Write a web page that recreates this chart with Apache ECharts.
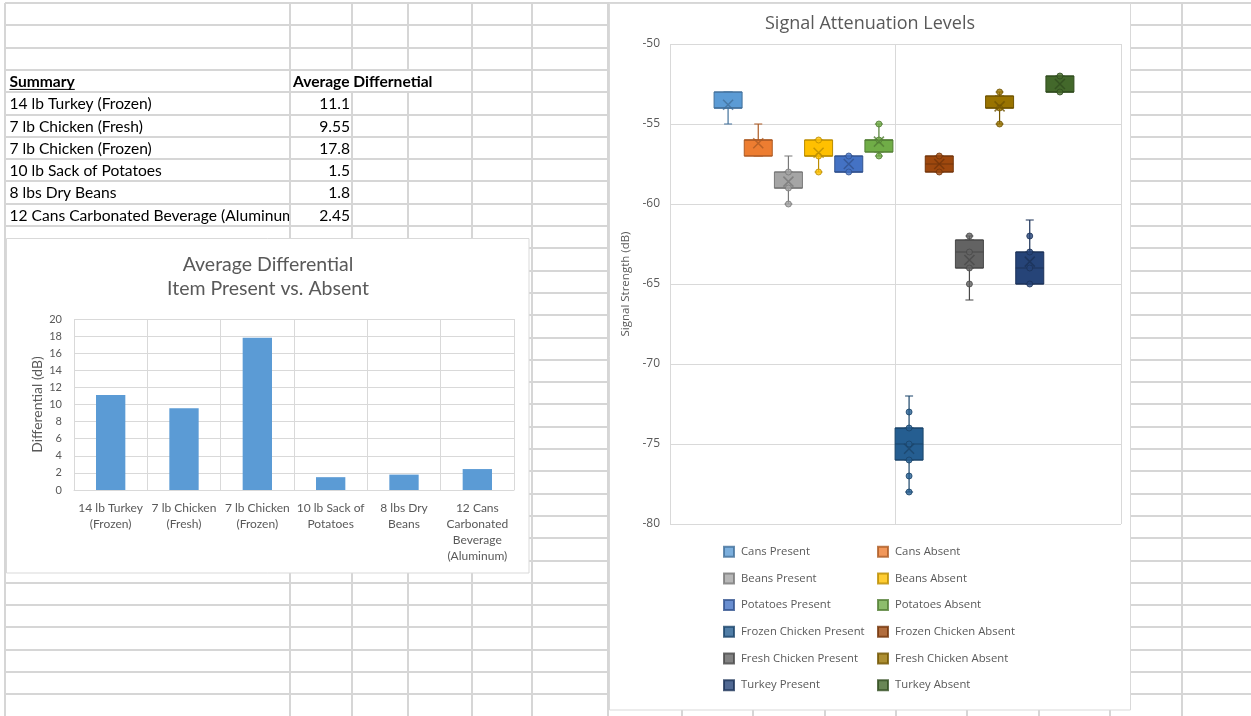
<!DOCTYPE html>
<html>
<head>
<meta charset="utf-8">
<title>Signal Attenuation</title>
<script src="https://cdn.jsdelivr.net/npm/echarts@6/dist/echarts.min.js"></script>
<style>
  html, body { margin: 0; padding: 0; background: #ffffff; }
  #main { width: 1251px; height: 716px; }
</style>
</head>
<body>
<div id="main"></div>
<script>
// ---- Summary table / differential bar chart ----
const summaryItems = ['14 lb Turkey (Frozen)', '7 lb Chicken (Fresh)', '7 lb Chicken (Frozen)',
  '10 lb Sack of Potatoes', '8 lbs Dry Beans', '12 Cans Carbonated Beverage (Aluminum)'];
const summaryValues = [11.1, 9.55, 17.8, 1.5, 1.8, 2.45];
const barTickLabels = ['14 lb Turkey\n(Frozen)', '7 lb Chicken\n(Fresh)', '7 lb Chicken\n(Frozen)',
  '10 lb Sack of\nPotatoes', '8 lbs Dry\nBeans', '12 Cans\nCarbonated\nBeverage\n(Aluminum)'];

// ---- Signal strength box plots (dB) ----
const groups = ['Cans Present', 'Cans Absent', 'Beans Present', 'Beans Absent',
  'Potatoes Present', 'Potatoes Absent', 'Frozen Chicken Present', 'Frozen Chicken Absent',
  'Fresh Chicken Present', 'Fresh Chicken Absent', 'Turkey Present', 'Turkey Absent'];
const mins    = [-55, -57, -60, -58, -58, -57,    -78, -58,   -66, -55,    -65, -53];
const q1s     = [-54, -57, -59, -57, -58, -56.75, -76, -58,   -64, -54,    -65, -53];
const medians = [-54, -56, -59, -57, -58, -56,    -75, -57.5, -63, -54,    -64, -53];
const q3s     = [-53, -56, -58, -56, -57, -56,    -74, -57,   -62.25, -53.25, -63, -52];
const maxs    = [-53, -55, -57, -56, -57, -55,    -72, -57,   -62, -53,    -61, -52];
const means   = [-53.8, -56.2, -58.6, -56.8, -57.5, -56.1, -75.3, -57.5, -63.5, -53.9, -63.6, -52.5];
const innerPoints = [
  [], [], [-58, -59, -60], [-56, -57, -58], [-57, -58], [-55, -56, -57],
  [-73, -74, -75, -76, -77, -78], [-57, -58], [-62, -63, -64, -65], [-53, -54, -55],
  [-62, -63, -64, -65], [-52, -53]
];

// Office series colours
const palette = ['#5B9BD5', '#ED7D31', '#A5A5A5', '#FFC000', '#4472C4', '#70AD47',
  '#255E91', '#9E480E', '#636363', '#997300', '#264478', '#43682B'];

function shade(hex, f) {
  const n = parseInt(hex.slice(1), 16);
  const r = Math.round(((n >> 16) & 255) * f);
  const g = Math.round(((n >> 8) & 255) * f);
  const b = Math.round((n & 255) * f);
  return 'rgb(' + r + ',' + g + ',' + b + ')';
}
const outline = palette.map(c => shade(c, 0.73));

const GRAY_TEXT = '#595959';
const GRID_GRAY = '#D9D9D9';
const SHEET_LINE = '#D6D6D6';
const CALIBRI = 'Lato';
const SEGOE = 'Open Sans';

// ---- worksheet backdrop: cell grid, chart panels and summary cells ----
const sheetColumnEdges = [5, 290, 352, 408, 472, 532, 608, 682, 753, 825, 896, 967, 1039, 1110, 1182];
const rowTop = k => 3 + 22.3 * k;

const sheet = [];
for (let k = 0; rowTop(k) <= 716; k++) {
  const y = Math.round(rowTop(k));
  sheet.push({ type: 'line', z: -10, silent: true,
    shape: { x1: 5, y1: y, x2: 1251, y2: y }, style: { stroke: SHEET_LINE, lineWidth: 2 } });
}
sheetColumnEdges.forEach(x => sheet.push({ type: 'line', z: -10, silent: true,
  shape: { x1: x, y1: 3, x2: x, y2: 716 }, style: { stroke: SHEET_LINE, lineWidth: 2 } }));

// chart panels
sheet.push({ type: 'rect', z: -5, silent: true,
  shape: { x: 6.5, y: 238.5, width: 522.5, height: 334.5 },
  style: { fill: '#ffffff', stroke: GRID_GRAY, lineWidth: 1 } });
sheet.push({ type: 'rect', z: -5, silent: true,
  shape: { x: 609.5, y: 3.5, width: 521, height: 706.5 },
  style: { fill: '#ffffff', stroke: GRID_GRAY, lineWidth: 1 } });

// summary cells
const cellFont = (w) => w + ' 15.6px ' + CALIBRI;
const measure = document.createElement('canvas').getContext('2d');
measure.font = cellFont('bold');
const summaryWidth = measure.measureText('Summary').width;
const headerRow = 3;

// header text runs across the empty neighbouring cells, hiding their borders
sheet.push({ type: 'rect', z: -9, silent: true,
  shape: { x: 291.5, y: Math.round(rowTop(headerRow)) + 1, width: 179, height: 20 },
  style: { fill: '#ffffff' } });
sheet.push({ type: 'text', z: 1, silent: true, x: 9.5, y: rowTop(headerRow) + 12,
  style: { text: 'Summary', font: cellFont('bold'), fill: '#000', align: 'left', verticalAlign: 'middle' } });
sheet.push({ type: 'line', z: 1, silent: true,
  shape: { x1: 9.5, y1: rowTop(headerRow) + 19.5, x2: 9.5 + summaryWidth, y2: rowTop(headerRow) + 19.5 },
  style: { stroke: '#000', lineWidth: 1 } });
sheet.push({ type: 'text', z: 1, silent: true, x: 293, y: rowTop(headerRow) + 12,
  style: { text: 'Average Differnetial', font: cellFont('bold'), fill: '#000', align: 'left', verticalAlign: 'middle' } });

summaryItems.forEach((name, i) => {
  const k = headerRow + 1 + i;
  const y = rowTop(k) + 12;
  const top = Math.round(rowTop(k));
  const bottom = Math.round(rowTop(k + 1));
  sheet.push({ type: 'text', z: 1, silent: true, x: 9.5, y: y,
    style: { text: name, font: cellFont('normal'), fill: '#000', align: 'left', verticalAlign: 'middle' } });
  // value cell is opaque: long names are clipped at the column border
  sheet.push({ type: 'rect', z: 2, silent: true,
    shape: { x: 289, y: top + 1, width: 62, height: bottom - top - 2 }, style: { fill: '#ffffff' } });
  sheet.push({ type: 'line', z: 3, silent: true,
    shape: { x1: 290, y1: top, x2: 290, y2: bottom }, style: { stroke: SHEET_LINE, lineWidth: 2 } });
  sheet.push({ type: 'text', z: 4, silent: true, x: 350, y: y,
    style: { text: String(summaryValues[i]), font: cellFont('normal'), fill: '#000', align: 'right', verticalAlign: 'middle' } });
});

// ---- box plot layers ----
const boxGrid = { left: 713, top: 44, width: 362, height: 480 };

const whiskerLayer = {
  type: 'boxplot', name: 'whiskers', xAxisIndex: 3, yAxisIndex: 3, z: 2, silent: true,
  boxWidth: [8, 8],
  data: groups.map((g, i) => ({
    value: [mins[i], q1s[i], medians[i], q3s[i], maxs[i]],
    itemStyle: { color: palette[i], borderColor: outline[i], borderWidth: 1.2 }
  }))
};
const boxLayer = {
  type: 'boxplot', name: 'boxes', xAxisIndex: 4, yAxisIndex: 4, z: 3, silent: true,
  boxWidth: [28, 28],
  data: groups.map((g, i) => ({
    value: [q1s[i], q1s[i], medians[i], q3s[i], q3s[i]],
    itemStyle: { color: palette[i], borderColor: outline[i], borderWidth: 1 }
  }))
};
const meanSymbol = 'path://M0,0L10,10M10,0L0,10';
const pointSeries = groups.map((g, i) => ({
  type: 'scatter', name: g, xAxisIndex: 2, yAxisIndex: 2, z: 4, silent: true,
  symbol: 'circle', symbolSize: 6,
  itemStyle: { color: palette[i], borderColor: outline[i], borderWidth: 1 },
  data: innerPoints[i].map(v => [g, v]).concat([{
    value: [g, means[i]], symbol: meanSymbol, symbolSize: 10,
    itemStyle: { color: outline[i], borderColor: outline[i], borderWidth: 1.5 }
  }])
}));

const hiddenCat = (grid) => ({ type: 'category', gridIndex: grid, data: groups, show: false });
const hiddenVal = (grid) => ({ type: 'value', gridIndex: grid, min: -80, max: -50, show: false });

const legendBase = {
  orient: 'vertical', top: 544.7, itemWidth: 10, itemHeight: 10, itemGap: 12.7,
  icon: 'rect', padding: 0, selectedMode: false,
  textStyle: { fontFamily: SEGOE, fontSize: 11.3, color: GRAY_TEXT, lineHeight: 14, padding: [0, 0, 0, 2] }
};

const option = {
  animation: false,
  backgroundColor: 'transparent',
  graphic: { elements: sheet },
  title: [
    { text: 'Average Differential\nItem Present vs. Absent', left: 268, top: 253, textAlign: 'center', padding: 0,
      textStyle: { fontFamily: CALIBRI, fontSize: 19.5, fontWeight: 'normal', color: GRAY_TEXT, lineHeight: 24 } },
    { text: 'Signal Attenuation Levels', left: 870, top: 12, textAlign: 'center', padding: 0,
      textStyle: { fontFamily: SEGOE, fontSize: 18, fontWeight: 'normal', color: GRAY_TEXT, lineHeight: 24 } }
  ],
  legend: [
    Object.assign({ left: 723, data: groups.filter((g, i) => i % 2 === 0) }, legendBase),
    Object.assign({ left: 877, data: groups.filter((g, i) => i % 2 === 1) }, legendBase)
  ],
  grid: [
    { left: 74, top: 319, width: 440, height: 171, outerBoundsMode: 'none' },
    { left: 670, top: 44, width: 451, height: 480, outerBoundsMode: 'none' },
    Object.assign({ outerBoundsMode: 'none' }, boxGrid),
    Object.assign({ outerBoundsMode: 'none' }, boxGrid),
    Object.assign({ outerBoundsMode: 'none' }, boxGrid)
  ],
  xAxis: [
    { type: 'category', gridIndex: 0, data: barTickLabels,
      axisLine: { lineStyle: { color: GRID_GRAY, width: 1 } }, axisTick: { show: false },
      axisLabel: { interval: 0, color: GRAY_TEXT, fontFamily: CALIBRI, fontSize: 12, lineHeight: 16, margin: 10 },
      splitLine: { show: true, interval: 0, lineStyle: { color: GRID_GRAY, width: 1 } } },
    { type: 'value', gridIndex: 1, min: 0, max: 2, interval: 1,
      axisLine: { show: false }, axisTick: { show: false }, axisLabel: { show: false },
      splitLine: { show: true, lineStyle: { color: GRID_GRAY, width: 1 } } },
    hiddenCat(2), hiddenCat(3), hiddenCat(4)
  ],
  yAxis: [
    { type: 'value', gridIndex: 0, min: 0, max: 20, interval: 2,
      axisLine: { show: false }, axisTick: { show: false },
      axisLabel: { color: GRAY_TEXT, fontFamily: CALIBRI, fontSize: 11, margin: 12 },
      splitLine: { lineStyle: { color: GRID_GRAY, width: 1 } },
      name: 'Differential (dB)', nameLocation: 'middle', nameGap: 30,
      nameTextStyle: { color: GRAY_TEXT, fontFamily: CALIBRI, fontSize: 14 } },
    { type: 'value', gridIndex: 1, min: -80, max: -50, interval: 5,
      axisLine: { show: false }, axisTick: { show: false },
      axisLabel: { color: GRAY_TEXT, fontFamily: SEGOE, fontSize: 12, margin: 10 },
      splitLine: { lineStyle: { color: GRID_GRAY, width: 1 } },
      name: 'Signal Strength (dB)', nameLocation: 'middle', nameGap: 38,
      nameTextStyle: { color: GRAY_TEXT, fontFamily: SEGOE, fontSize: 11.5 } },
    hiddenVal(2), hiddenVal(3), hiddenVal(4)
  ],
  series: [
    { type: 'bar', name: 'Average Differential', xAxisIndex: 0, yAxisIndex: 0, barWidth: '40%',
      itemStyle: { color: '#5B9BD5' }, data: summaryValues, silent: true },
    whiskerLayer,
    boxLayer
  ].concat(pointSeries)
};

const chart = echarts.init(document.getElementById('main'), null, { renderer: 'canvas' });
chart.setOption(option);
</script>
</body>
</html>
